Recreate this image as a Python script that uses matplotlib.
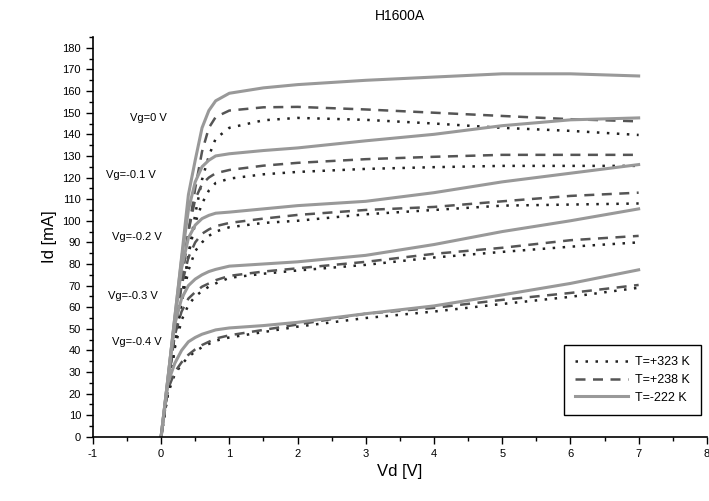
import matplotlib.pyplot as plt
from matplotlib.ticker import MultipleLocator

plt.rcParams['font.family'] = ['Liberation Sans', 'DejaVu Sans']
plt.rcParams['axes.unicode_minus'] = False

# Drain voltage points (V)
vd = [0, 0.1, 0.2, 0.3, 0.4, 0.5, 0.6, 0.7, 0.8, 1.0, 1.5, 2, 3, 4, 5, 6, 7]

gate_labels = ['Vg=0 V', 'Vg=-0.1 V', 'Vg=-0.2 V', 'Vg=-0.3 V', 'Vg=-0.4 V']
temp_labels = ['T=+323 K', 'T=+238 K', 'T=-222 K']

# Drain current (mA) for T=+323 K, one list per gate voltage
id_323 = [
    [0, 21, 42, 63, 84, 103, 119, 130, 138, 143, 146.5, 147.6, 146.7, 145, 143, 141.6, 139.7],
    [0, 21, 42, 63, 84, 99, 108, 114, 117.5, 119.5, 121.5, 122.6, 124, 124.8, 125.4, 125.4, 125.4],
    [0, 21, 42, 62, 77, 86, 90, 93, 95, 97, 99, 100, 103, 105, 107, 107.5, 108],
    [0, 21, 41, 54, 61, 65, 67.5, 69.5, 71, 73.6, 75.5, 77, 79.6, 83, 85.6, 88, 90],
    [0, 20, 29, 33.5, 37, 39.5, 41.5, 43, 44.5, 46, 48.5, 51, 55, 58, 61.5, 64.8, 69],
]
# T=+238 K
id_238 = [
    [0, 24, 48, 72, 95, 115, 132, 143, 148, 151, 152.5, 152.7, 151.5, 150, 148.5, 147, 146],
    [0, 24, 48, 72, 95, 110, 117, 120, 122, 123.5, 125.5, 126.8, 128.5, 129.6, 130.5, 130.5, 130.5],
    [0, 24, 48, 70, 83, 90, 94, 96, 97.5, 99, 101, 102.7, 105, 106.4, 109, 111.5, 113],
    [0, 24, 47, 58, 64, 67, 69.5, 71, 72.5, 74.5, 76.5, 78, 81, 84.7, 87.5, 91, 93],
    [0, 22, 30, 34.5, 38, 40.5, 42.5, 44, 45.5, 47, 49.5, 52, 57, 59.7, 63.4, 66.6, 70.3],
]
# T=-222 K
id_222 = [
    [0, 27, 55, 83, 112, 128, 143, 151, 155.5, 159, 161.5, 163, 165, 166.5, 168, 168, 167],
    [0, 27, 55, 82, 105, 118, 125, 128, 130, 131, 132.5, 133.7, 137, 140, 144, 146.7, 147.6],
    [0, 27, 54, 78, 92, 98, 101, 102.5, 103.5, 104, 105.5, 107, 109, 113, 118, 122, 126],
    [0, 26, 52, 64, 70, 73, 75, 76.5, 77.5, 79, 80, 81, 84, 89, 95, 100, 105.5],
    [0, 25, 34, 40, 44, 46, 47.5, 48.5, 49.5, 50.4, 51.5, 53, 57, 60.6, 65.7, 71, 77.3],
]

# label positions for the gate voltage annotations
label_x = [-0.19, -0.45, -0.36, -0.41, -0.36]
label_y = [147.5, 121, 92.5, 65, 44]

fig = plt.figure(figsize=(7.09, 5.01), dpi=100)
ax = fig.add_axes([0.131, 0.128, 0.866, 0.798])

for i in range(5):
    l1, = ax.plot(vd, id_323[i], color='#222222', linestyle=(0, (1, 3)), linewidth=1.8)
    l2, = ax.plot(vd, id_238[i], color='#555555', linestyle=(0, (4, 3)), linewidth=1.8)
    l3, = ax.plot(vd, id_222[i], color='#999999', linestyle='-', linewidth=2.2)
    ax.text(label_x[i], label_y[i], gate_labels[i], fontsize=8, ha='center', va='center')

ax.set_xlim(-1, 8)
ax.set_ylim(0, 185)
ax.xaxis.set_major_locator(MultipleLocator(1))
ax.xaxis.set_minor_locator(MultipleLocator(0.5))
ax.yaxis.set_minor_locator(MultipleLocator(5))
ax.set_yticks(range(0, 181, 10))
ax.tick_params(which='major', direction='out', length=5, width=1, labelsize=8)
ax.tick_params(which='minor', direction='out', length=3, width=1)
ax.spines['top'].set_visible(False)
ax.spines['right'].set_visible(False)
ax.spines['left'].set_linewidth(1.2)
ax.spines['bottom'].set_linewidth(1.2)

ax.set_title('H1600A', fontsize=10, pad=12)
ax.set_xlabel('Vd [V]', fontsize=12)
ax.set_ylabel('Id [mA]', fontsize=12)

leg = ax.legend([l1, l2, l3], temp_labels, loc='upper left', bbox_to_anchor=(0.757, 0.245),
                fontsize=9, fancybox=False, edgecolor='black', framealpha=1,
                handlelength=4.2, borderpad=0.9, labelspacing=0.45, handletextpad=0.6)
leg.get_frame().set_linewidth(1)

fig.savefig('out.png', dpi=100)
